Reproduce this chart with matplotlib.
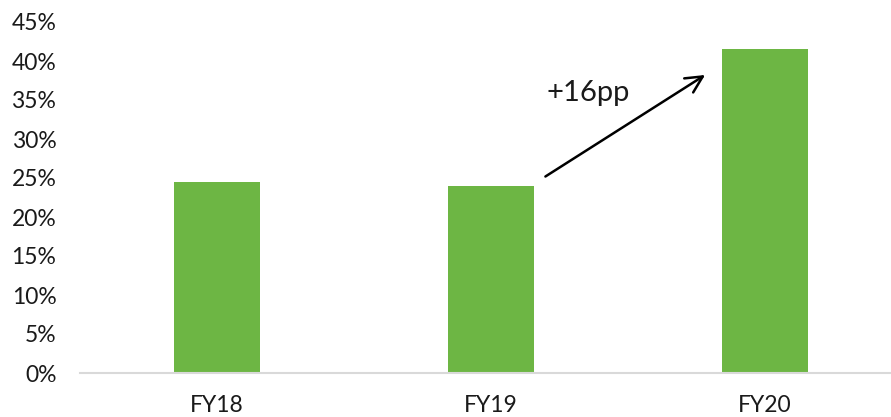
import matplotlib.pyplot as plt
from matplotlib.ticker import PercentFormatter

# share of revenue by fiscal year
years = ["FY18", "FY19", "FY20"]
share = [24.5, 24.0, 41.5]
change_label = "+16pp"

plt.rcParams["font.family"] = ["Lato", "DejaVu Sans"]

fig = plt.figure(figsize=(8.91, 4.17), dpi=100)
ax = fig.add_axes([80 / 891, 44 / 417, 822 / 891, 351 / 417])

x = range(len(years))
ax.bar(x, share, width=0.317, color="#6DB644", zorder=2)

ax.set_ylim(0, 45)
ax.set_xlim(-0.5, 2.5)
ax.set_yticks(range(0, 50, 5))
ax.yaxis.set_major_formatter(PercentFormatter(decimals=0))
ax.set_xticks(list(x))
ax.set_xticklabels(years)
ax.tick_params(axis="both", length=0, labelsize=16.5, colors="#1a1a1a")
ax.tick_params(axis="y", pad=17)
ax.tick_params(axis="x", pad=16)

for side in ["top", "right", "left"]:
    ax.spines[side].set_visible(False)
ax.spines["bottom"].set_color("#D9D9D9")
ax.spines["bottom"].set_linewidth(1.5)

# arrow from FY19 up to FY20
ax.annotate("", xy=(1.79, 38.4), xytext=(1.19, 25.0),
            arrowprops=dict(arrowstyle="->", color="black", lw=1.8,
                            mutation_scale=30))
ax.text(1.354, 35.9, change_label, fontsize=21,
        ha="center", va="center", color="#1a1a1a")

plt.savefig("out.png", dpi=100)
